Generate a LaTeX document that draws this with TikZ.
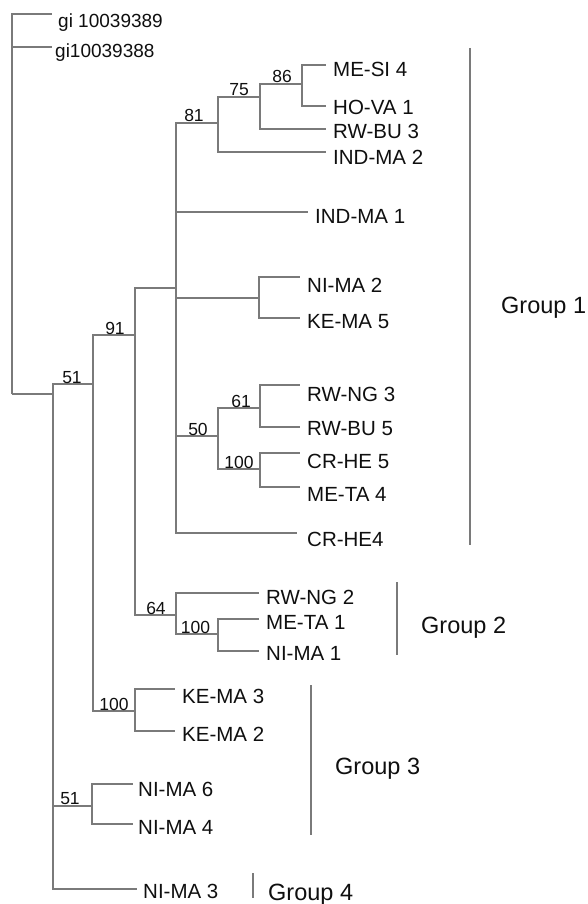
\documentclass[tikz,border=0pt]{standalone}
\usepackage{fontspec}
\setmainfont{Liberation Sans}
\definecolor{branch}{RGB}{122,122,122}
\definecolor{ink}{RGB}{15,15,15}
\begin{document}
\begin{tikzpicture}[x=1pt,y=-1pt,
  br/.style={draw=branch, line width=1.3pt},
  bar/.style={draw=branch, line width=1.4pt},
  leaf/.style={anchor=base west, inner sep=0pt, font=\fontsize{20.5}{20.5}\selectfont, text=ink},
  gilabel/.style={anchor=base west, inner sep=0pt, font=\fontsize{19}{19}\selectfont, text=ink},
  boot/.style={anchor=base, inner sep=0pt, font=\fontsize{17.5}{17.5}\selectfont, text=ink},
  grp/.style={anchor=base west, inner sep=0pt, font=\fontsize{23.5}{23.5}\selectfont, text=ink}]
\useasboundingbox (0,0) rectangle (588,904);

% internal nodes
\coordinate (A) at (12,394);
\coordinate (B) at (53,394);
\coordinate (C) at (93,384);
\coordinate (D) at (92,806);
\coordinate (E) at (135,335);
\coordinate (F) at (135,711);
\coordinate (G) at (176,615);
\coordinate (H) at (218,634);
\coordinate (I) at (176,288);
\coordinate (J) at (218,123);
\coordinate (K) at (260,97);
\coordinate (L) at (302,84);
\coordinate (M) at (259,298);
\coordinate (N) at (218,436);
\coordinate (O) at (260,408);
\coordinate (P) at (260,469);

% leaf branch ends
\coordinate (gA) at (52,14);
\coordinate (gB) at (52,47);
\coordinate (l1) at (326,65);
\coordinate (l2) at (326,106);
\coordinate (l3) at (326,129);
\coordinate (l4) at (326,152);
\coordinate (l5) at (308,212);
\coordinate (l6) at (300,277);
\coordinate (l7) at (300,318);
\coordinate (l8) at (300,385);
\coordinate (l9) at (300,427);
\coordinate (l10) at (300,453);
\coordinate (l11) at (300,487);
\coordinate (l12) at (297,533);
\coordinate (l13) at (259,593);
\coordinate (l14) at (259,619);
\coordinate (l15) at (259,651);
\coordinate (l16) at (175,689);
\coordinate (l17) at (175,731);
\coordinate (l18) at (133,784);
\coordinate (l19) at (133,824);
\coordinate (l20) at (137,889);

% branches
\draw[br] (A) |- (gA);
\draw[br] (A) |- (gB);
\draw[br] (A) -- (B);
\draw[br] (B) |- (C);
\draw[br] (B) |- (D);
\draw[br] (B) |- (l20);
\draw[br] (C) |- (E);
\draw[br] (C) |- (F);
\draw[br] (E) |- (I);
\draw[br] (E) |- (G);
\draw[br] (I) |- (J);
\draw[br] (I) |- (l5);
\draw[br] (I) |- (M);
\draw[br] (I) |- (N);
\draw[br] (I) |- (l12);
\draw[br] (J) |- (K);
\draw[br] (J) |- (l4);
\draw[br] (K) |- (L);
\draw[br] (K) |- (l3);
\draw[br] (L) |- (l1);
\draw[br] (L) |- (l2);
\draw[br] (M) |- (l6);
\draw[br] (M) |- (l7);
\draw[br] (N) |- (O);
\draw[br] (N) |- (P);
\draw[br] (O) |- (l8);
\draw[br] (O) |- (l9);
\draw[br] (P) |- (l10);
\draw[br] (P) |- (l11);
\draw[br] (G) |- (l13);
\draw[br] (G) |- (H);
\draw[br] (H) |- (l14);
\draw[br] (H) |- (l15);
\draw[br] (F) |- (l16);
\draw[br] (F) |- (l17);
\draw[br] (D) |- (l18);
\draw[br] (D) |- (l19);

% leaf labels
\node[gilabel] (tgA) at (58,28) {gi 10039389};
\node[gilabel] (tgB) at (55,58) {gi10039388};
\node[leaf] (t1) at (333,77) {ME-SI 4};
\node[leaf] (t2) at (333,115) {HO-VA 1};
\node[leaf] (t3) at (333,139) {RW-BU 3};
\node[leaf] (t4) at (333,165) {IND-MA 2};
\node[leaf] (t5) at (315,223) {IND-MA 1};
\node[leaf] (t6) at (307,292) {NI-MA 2};
\node[leaf] (t7) at (307,328) {KE-MA 5};
\node[leaf] (t8) at (307,401) {RW-NG 3};
\node[leaf] (t9) at (307,435) {RW-BU 5};
\node[leaf] (t10) at (307,468) {CR-HE 5};
\node[leaf] (t11) at (307,501) {ME-TA 4};
\node[leaf] (t12) at (307,546) {CR-HE4};
\node[leaf] (t13) at (266,604) {RW-NG 2};
\node[leaf] (t14) at (266,629) {ME-TA 1};
\node[leaf] (t15) at (266,660) {NI-MA 1};
\node[leaf] (t16) at (182,703) {KE-MA 3};
\node[leaf] (t17) at (182,741) {KE-MA 2};
\node[leaf] (t18) at (138,796) {NI-MA 6};
\node[leaf] (t19) at (138,834) {NI-MA 4};
\node[leaf] (t20) at (143,898) {NI-MA 3};

% bootstrap values
\node[boot] (b86) at (282,83) {86};
\node[boot] (b75) at (239,96) {75};
\node[boot] (b81) at (194,122) {81};
\node[boot] (b91) at (115,334) {91};
\node[boot] (b51a) at (72,383) {51};
\node[boot] (b50) at (198,435) {50};
\node[boot] (b61) at (241,407) {61};
\node[boot] (b100a) at (239,468) {100};
\node[boot] (b64) at (156,614) {64};
\node[boot] (b100b) at (195.5,633) {100};
\node[boot] (b100c) at (114,710) {100};
\node[boot] (b51b) at (70,804) {51};

% group bars
\coordinate (g1t) at (470,48);
\coordinate (g1b) at (470,545);
\coordinate (g2t) at (397,582);
\coordinate (g2b) at (397,655);
\coordinate (g3t) at (311,685);
\coordinate (g3b) at (311,835);
\coordinate (g4t) at (253,873);
\coordinate (g4b) at (253,898);
\draw[bar] (g1t) -- (g1b);
\draw[bar] (g2t) -- (g2b);
\draw[bar] (g3t) -- (g3b);
\draw[bar] (g4t) -- (g4b);

% group labels
\node[grp] (G1) at (501,313) {Group 1};
\node[grp] (G2) at (421,633) {Group 2};
\node[grp] (G3) at (335,774) {Group 3};
\node[grp] (G4) at (268,900) {Group 4};
\end{tikzpicture}
\end{document}
